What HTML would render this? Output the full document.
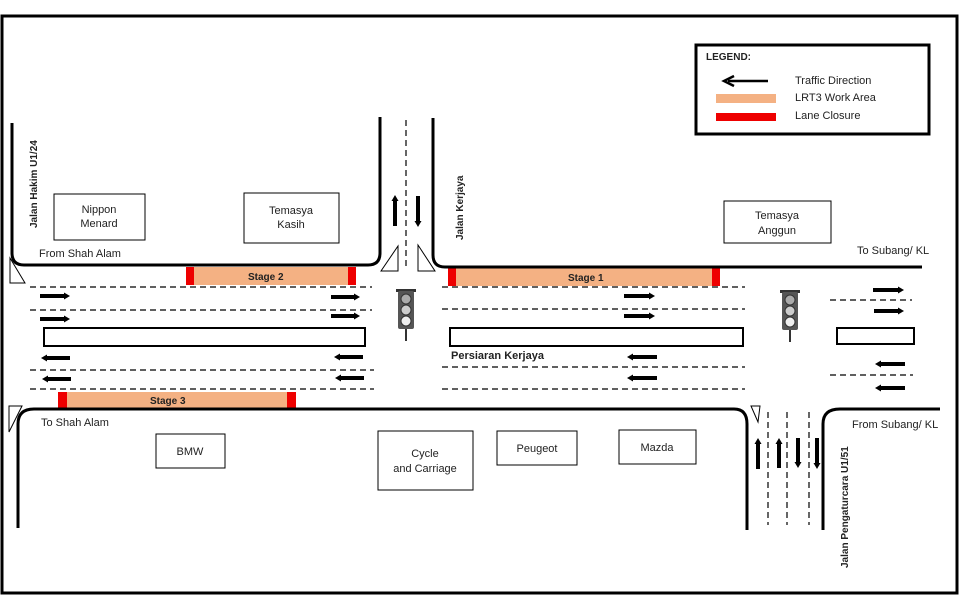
<!DOCTYPE html>
<html><head><meta charset="utf-8"><style>
html,body{margin:0;padding:0;background:#fff;width:960px;height:609px;overflow:hidden}
text{font-family:"Liberation Sans",sans-serif;fill:#222}
</style></head><body>
<svg width="960" height="609" viewBox="0 0 960 609" xmlns="http://www.w3.org/2000/svg">
<defs>
<marker id="ah" markerWidth="6" markerHeight="7" refX="1" refY="3.5" orient="auto" markerUnits="userSpaceOnUse"><path d="M0,0 L6,3.5 L0,7 z" fill="#000"/></marker>
</defs>
<rect x="2" y="16" width="955" height="577" fill="#fff" stroke="#000" stroke-width="3"/>
<!-- legend -->
<rect x="696" y="45" width="233" height="89" fill="#fff" stroke="#000" stroke-width="3"/>
<text x="706" y="60" font-size="10" font-weight="bold">LEGEND:</text>
<line x1="768" y1="81" x2="728" y2="81" stroke="#000" stroke-width="2.5"/>
<path d="M734,76 L724,81 L734,86" fill="none" stroke="#000" stroke-width="2.5"/>
<rect x="716" y="94" width="60" height="9" fill="#f4b183"/>
<rect x="716" y="113" width="60" height="8" fill="#e00"/>
<text x="795" y="84" font-size="11">Traffic Direction</text>
<text x="795" y="101" font-size="11">LRT3 Work Area</text>
<text x="795" y="119" font-size="11">Lane Closure</text>
<!-- work areas -->
<rect x="186" y="267" width="170" height="18" fill="#f4b183"/>
<rect x="186" y="267" width="8" height="18" fill="#e00"/><rect x="348" y="267" width="8" height="18" fill="#e00"/>
<text x="248" y="280" font-size="10" font-weight="bold">Stage 2</text>
<rect x="448" y="267" width="272" height="19" fill="#f4b183"/>
<rect x="448" y="267" width="8" height="19" fill="#e00"/><rect x="712" y="267" width="8" height="19" fill="#e00"/>
<text x="568" y="281" font-size="10" font-weight="bold">Stage 1</text>
<rect x="58" y="392" width="238" height="17" fill="#f4b183"/>
<rect x="58" y="392" width="9" height="17" fill="#e00"/><rect x="287" y="392" width="9" height="17" fill="#e00"/>
<text x="150" y="404" font-size="10" font-weight="bold">Stage 3</text>
<!-- road edges -->
<g fill="none" stroke="#000" stroke-width="3">
<path d="M12,123 V253 Q12,265 24,265 H368 Q380,265 380,253 V117"/>
<path d="M433,118 V255 Q433,267 445,267 H922"/>
<path d="M18,528 V424 Q18,409 34,409 H734 Q747,409 747,424 V530"/>
<path d="M823,530 V424 Q823,409 840,409 H940"/>
</g>
<!-- dashed lines -->
<g stroke="#000" stroke-width="1.2" stroke-dasharray="6,4" fill="none">
<line x1="406" y1="120" x2="406" y2="270"/>
<line x1="30" y1="287" x2="372" y2="287"/><line x1="30" y1="310" x2="372" y2="310"/>
<line x1="30" y1="370" x2="374" y2="370"/><line x1="30" y1="389" x2="374" y2="389"/>
<line x1="442" y1="287" x2="745" y2="287"/><line x1="442" y1="309" x2="745" y2="309"/>
<line x1="442" y1="367" x2="745" y2="367"/><line x1="442" y1="389" x2="745" y2="389"/>
<line x1="830" y1="300" x2="912" y2="300"/><line x1="830" y1="375" x2="913" y2="375"/>
<line x1="768" y1="412" x2="768" y2="525"/><line x1="787" y1="412" x2="787" y2="525"/><line x1="809" y1="412" x2="809" y2="525"/>
</g>
<!-- medians -->
<g fill="#fff" stroke="#000" stroke-width="2">
<rect x="44" y="328" width="321" height="18"/>
<rect x="450" y="328" width="293" height="18"/>
<rect x="837" y="328" width="77" height="16"/>
</g>
<!-- arrows -->
<g stroke="#000" stroke-width="4" marker-end="url(#ah)">
<line x1="40" y1="296" x2="65" y2="296"/><line x1="40" y1="319" x2="65" y2="319"/>
<line x1="331" y1="297" x2="355" y2="297"/><line x1="331" y1="316" x2="355" y2="316"/>
<line x1="70" y1="358" x2="46" y2="358"/><line x1="71" y1="379" x2="47" y2="379"/>
<line x1="363" y1="357" x2="339" y2="357"/><line x1="364" y1="378" x2="340" y2="378"/>
<line x1="624" y1="296" x2="650" y2="296"/><line x1="624" y1="316" x2="650" y2="316"/>
<line x1="657" y1="357" x2="632" y2="357"/><line x1="657" y1="378" x2="632" y2="378"/>
<line x1="873" y1="290" x2="899" y2="290"/><line x1="874" y1="311" x2="899" y2="311"/>
<line x1="905" y1="364" x2="880" y2="364"/><line x1="905" y1="388" x2="880" y2="388"/>
<line x1="395" y1="226" x2="395" y2="200"/><line x1="418" y1="196" x2="418" y2="222"/>
<line x1="758" y1="469" x2="758" y2="443"/><line x1="779" y1="468" x2="779" y2="443"/>
<line x1="798" y1="438" x2="798" y2="463"/><line x1="817" y1="438" x2="817" y2="464"/>
</g>
<!-- triangles -->
<g fill="#fff" stroke="#000" stroke-width="1">
<path d="M10,258 L10,283 L25,283 Z"/>
<path d="M381,271 L398,246 L398,271 Z"/>
<path d="M418,245 L418,271 L435,271 Z"/>
<path d="M9,406 L22,406 L9,432 Z"/>
<path d="M751,406 L760,406 L758,422 Z"/>
</g>
<!-- traffic lights -->
<g>
<rect x="396" y="289" width="20" height="3" fill="#333"/>
<rect x="398" y="291" width="16" height="38" rx="2" fill="#555"/>
<circle cx="406" cy="299" r="5" fill="#aaa" stroke="#333"/><circle cx="406" cy="310" r="5" fill="#ccc" stroke="#333"/><circle cx="406" cy="321" r="5" fill="#eee" stroke="#333"/>
<rect x="405" y="329" width="2" height="12" fill="#333"/>
<rect x="780" y="290" width="20" height="3" fill="#333"/>
<rect x="782" y="292" width="16" height="38" rx="2" fill="#555"/>
<circle cx="790" cy="300" r="5" fill="#aaa" stroke="#333"/><circle cx="790" cy="311" r="5" fill="#ccc" stroke="#333"/><circle cx="790" cy="322" r="5" fill="#eee" stroke="#333"/>
<rect x="789" y="330" width="2" height="12" fill="#333"/>
</g>
<!-- buildings -->
<g fill="#fff" stroke="#000" stroke-width="1">
<rect x="54" y="194" width="91" height="46"/>
<rect x="244" y="193" width="95" height="50"/>
<rect x="724" y="201" width="107" height="42"/>
<rect x="156" y="434" width="69" height="34"/>
<rect x="378" y="431" width="95" height="59"/>
<rect x="497" y="431" width="80" height="34"/>
<rect x="619" y="430" width="77" height="34"/>
</g>
<g font-size="11" text-anchor="middle">
<text x="99" y="213">Nippon</text><text x="99" y="227">Menard</text>
<text x="291" y="214">Temasya</text><text x="291" y="228">Kasih</text>
<text x="777" y="219">Temasya</text><text x="777" y="234">Anggun</text>
<text x="190" y="455">BMW</text>
<text x="425" y="457">Cycle</text><text x="425" y="472">and Carriage</text>
<text x="537" y="452">Peugeot</text>
<text x="657" y="451">Mazda</text>
</g>
<g font-size="11">
<text x="39" y="257">From Shah Alam</text>
<text x="857" y="254">To Subang/ KL</text>
<text x="41" y="426">To Shah Alam</text>
<text x="852" y="428">From Subang/ KL</text>
<text x="451" y="359" font-weight="bold">Persiaran  Kerjaya</text>
</g>
<g font-size="10" font-weight="bold">
<text transform="translate(37,228) rotate(-90)">Jalan Hakim U1/24</text>
<text transform="translate(463,240) rotate(-90)">Jalan Kerjaya</text>
<text transform="translate(848,568) rotate(-90)">Jalan Pengaturcara  U1/51</text>
</g>
</svg>
</body></html>
